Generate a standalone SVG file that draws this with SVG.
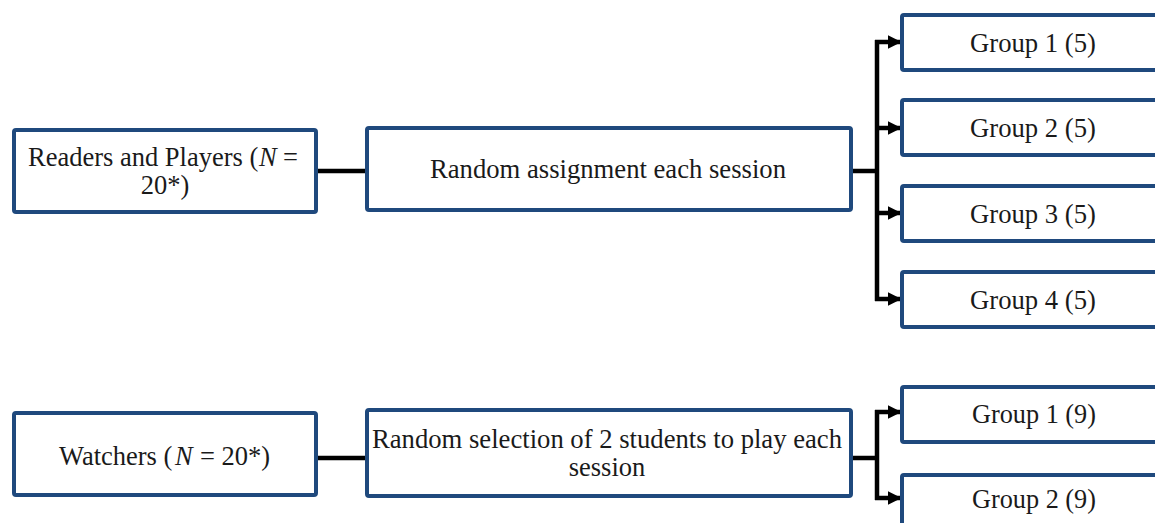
<svg xmlns="http://www.w3.org/2000/svg" width="1155" height="523" viewBox="0 0 1155 523">
<style>
.box{fill:#fff;stroke:#1f497d;stroke-width:4}
.t{font-family:"Liberation Serif","Times New Roman",serif;font-size:26.5px;fill:#1a1a1a;text-anchor:middle}
.s{text-anchor:start}
.i{font-style:italic}
.c{fill:none;stroke:#000;stroke-width:4.5}
</style>
<defs>
<marker id="ah" viewBox="0 0 10 10" refX="9" refY="5" markerWidth="3" markerHeight="3" orient="auto" markerUnits="strokeWidth">
<path d="M0,0 L10,5 L0,10 Z" fill="#000"/>
</marker>
</defs>
<rect width="1155" height="523" fill="#fff"/>
<g id="connectors">
<line class="c" x1="316" y1="171" x2="367" y2="171"/>
<line class="c" x1="851" y1="171" x2="877" y2="171"/>
<line class="c" x1="877" y1="40" x2="877" y2="301"/>
<line class="c" x1="875" y1="42" x2="900" y2="42" marker-end="url(#ah)"/>
<line class="c" x1="875" y1="128" x2="900" y2="128" marker-end="url(#ah)"/>
<line class="c" x1="875" y1="213" x2="900" y2="213" marker-end="url(#ah)"/>
<line class="c" x1="875" y1="299" x2="900" y2="299" marker-end="url(#ah)"/>
<line class="c" x1="316" y1="458" x2="367" y2="458"/>
<line class="c" x1="851" y1="458" x2="877" y2="458"/>
<line class="c" x1="877" y1="410" x2="877" y2="500"/>
<line class="c" x1="875" y1="412" x2="900" y2="412" marker-end="url(#ah)"/>
<line class="c" x1="875" y1="498" x2="900" y2="498" marker-end="url(#ah)"/>
</g>
<g id="readers">
<rect class="box" x="14" y="130" width="302" height="82" rx="2"/>
<text class="t s" x="28" y="165.5">Readers and Players (</text>
<text class="t s i" x="259" y="165.5">N</text>
<text class="t s" x="283" y="165.5">=</text>
<text class="t" x="165" y="194">20*)</text>
</g>
<g id="random-assignment">
<rect class="box" x="367" y="128" width="484" height="82" rx="2"/>
<text class="t" x="608" y="178" textLength="356" lengthAdjust="spacingAndGlyphs">Random assignment each session</text>
</g>
<g id="g1">
<rect class="box" x="902" y="15" width="265" height="55" rx="2"/>
<text class="t" x="1033" y="52" textLength="126" lengthAdjust="spacingAndGlyphs">Group 1 (5)</text>
</g>
<g id="g2">
<rect class="box" x="902" y="100" width="265" height="55" rx="2"/>
<text class="t" x="1033" y="137" textLength="126" lengthAdjust="spacingAndGlyphs">Group 2 (5)</text>
</g>
<g id="g3">
<rect class="box" x="902" y="186" width="265" height="55" rx="2"/>
<text class="t" x="1033" y="223" textLength="126" lengthAdjust="spacingAndGlyphs">Group 3 (5)</text>
</g>
<g id="g4">
<rect class="box" x="902" y="272" width="265" height="55" rx="2"/>
<text class="t" x="1033" y="309" textLength="126" lengthAdjust="spacingAndGlyphs">Group 4 (5)</text>
</g>
<g id="watchers">
<rect class="box" x="14" y="413" width="302" height="82" rx="2"/>
<text class="t s" x="59" y="465">Watchers (</text>
<text class="t s i" x="175" y="465">N</text>
<text class="t s" x="200" y="465">= 20*)</text>
</g>
<g id="random-selection">
<rect class="box" x="367" y="410" width="484" height="86" rx="2"/>
<text class="t" x="607" y="448" textLength="470" lengthAdjust="spacingAndGlyphs">Random selection of 2 students to play each</text>
<text class="t" x="607" y="476">session</text>
</g>
<g id="w1">
<rect class="box" x="902" y="387" width="265" height="55" rx="2"/>
<text class="t" x="1034" y="423" textLength="124" lengthAdjust="spacingAndGlyphs">Group 1 (9)</text>
</g>
<g id="w2">
<rect class="box" x="902" y="475" width="265" height="60" rx="2"/>
<text class="t" x="1034" y="508" textLength="124" lengthAdjust="spacingAndGlyphs">Group 2 (9)</text>
</g>
</svg>
